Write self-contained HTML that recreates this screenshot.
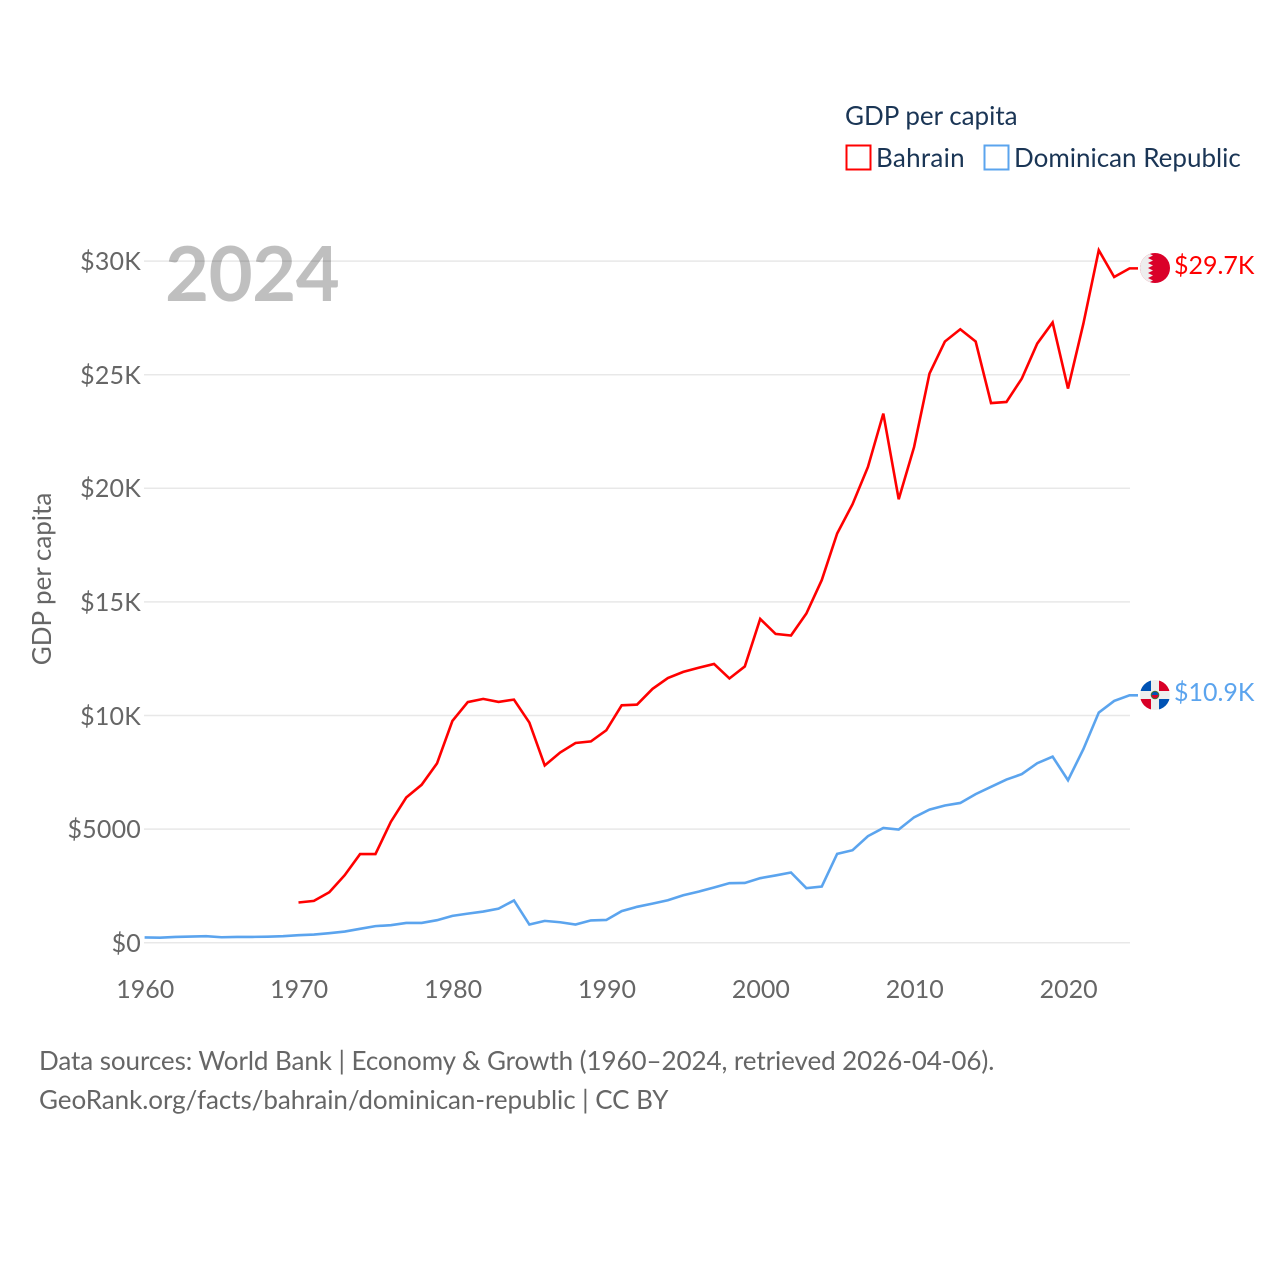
<!DOCTYPE html>
<html lang="en">
<head>
<meta charset="utf-8">
<title>GDP per capita: Bahrain vs Dominican Republic</title>
<style>
html,body{margin:0;padding:0;background:#fff;width:1280px;height:1280px;overflow:hidden}
body{position:relative;font-family:"Lato","Carlito","Liberation Sans",sans-serif}
svg{display:block;position:absolute;left:0;top:0}
.t{position:absolute;line-height:0;white-space:nowrap}
</style>
</head>
<body>
<svg id="chart" xmlns="http://www.w3.org/2000/svg" width="1280" height="1280" viewBox="0 0 1280 1280">
  <defs>
    <clipPath id="clip-bh"><circle cx="1155" cy="268" r="15"/></clipPath>
    <clipPath id="clip-do"><circle cx="1155" cy="695" r="15"/></clipPath>
  </defs>
  <rect x="0" y="0" width="1280" height="1280" fill="#fff"/>
  <g id="grid"></g>
  <g id="series"></g>

  <g>
    <rect x="846.5" y="145.5" width="24" height="24" fill="none" stroke="#ff0000" stroke-width="2"/>
    <rect x="984.5" y="145.5" width="24" height="24" fill="none" stroke="#5ba4ee" stroke-width="2"/>
  </g>

  <g clip-path="url(#clip-bh)">
    <rect x="1140" y="253" width="30" height="30" fill="#da0029"/>
    <path d="M1140 253H1148L1153 255.5L1148 258L1153 260.5L1148 263L1153 265.5L1148 268L1153 270.5L1148 273L1153 275.5L1148 278L1153 280.5L1148 283H1140Z" fill="#eeeeee"/>
  </g>
  <g clip-path="url(#clip-do)">
    <rect x="1140" y="680" width="30" height="30" fill="#eeeeee"/>
    <rect x="1140" y="680" width="11" height="11" fill="#0052b4"/>
    <rect x="1159" y="680" width="11" height="11" fill="#d80027"/>
    <rect x="1140" y="699" width="11" height="11" fill="#d80027"/>
    <rect x="1159" y="699" width="11" height="11" fill="#0052b4"/>
    <circle cx="1155" cy="695" r="4.3" fill="#496e2d"/>
    <circle cx="1155" cy="695" r="3.2" fill="#0052b4"/>
    <path d="M1151.8 695a3.2 3.2 0 0 0 6.4 0z" fill="#d80027"/>
  </g>
</svg>

<div class="t" style="left:165px;top:273px;font-size:76px;font-weight:700;letter-spacing:-0.5px;color:rgba(0,0,0,0.25)">2024</div>
<div class="t" style="left:51px;top:579px;width:0;font-size:26px;color:#666;transform:rotate(-90deg);transform-origin:0 0"><span style="position:absolute;left:-100px;width:200px;text-align:center;top:-10px">GDP per capita</span></div>

<div class="t" style="left:845px;top:115px;font-size:26px;color:#1a3555">GDP per capita</div>
<div class="t" style="left:876px;top:157px;font-size:26px;letter-spacing:0.28px;color:#1a3555">Bahrain</div>
<div class="t" style="left:1014px;top:157px;font-size:26px;color:#1a3555">Dominican Republic</div>

<div class="t" style="left:1174px;top:265px;font-size:25px;color:#ff0000">$29.7K</div>
<div class="t" style="left:1174px;top:692px;font-size:25px;color:#5ba4ee">$10.9K</div>

<div class="t" style="left:39px;top:1060px;font-size:26px;letter-spacing:-0.076px;color:#666">Data sources: World Bank | Economy &amp; Growth (1960–2024, retrieved 2026-04-06).</div>
<div class="t" style="left:39px;top:1099px;font-size:26px;letter-spacing:-0.058px;color:#666">GeoRank.org/facts/bahrain/dominican-republic | CC BY</div>

<script>
const yearStart = 1960;
const bahrainStart = 1970;
const xTickYears = [1960, 1970, 1980, 1990, 2000, 2010, 2020];
const yTickValues = [0, 5, 10, 15, 20, 25, 30];
const yTickLabels = ["$0", "$5000", "$10K", "$15K", "$20K", "$25K", "$30K"];
const bahrain = [1.77, 1.84, 2.22, 2.97, 3.9, 3.9, 5.32, 6.39, 6.95, 7.89, 9.76, 10.59, 10.73, 10.6, 10.7, 9.69, 7.8, 8.37, 8.79, 8.86, 9.35, 10.45, 10.48, 11.17, 11.65, 11.92, 12.1, 12.27, 11.63, 12.16, 14.25, 13.59, 13.52, 14.49, 15.96, 18.01, 19.3, 20.94, 23.29, 19.52, 21.82, 25.05, 26.46, 27.0, 26.46, 23.75, 23.8, 24.83, 26.37, 27.3, 24.39, 27.25, 30.48, 29.3, 29.68];
const dominican = [0.23, 0.22, 0.255, 0.27, 0.285, 0.24, 0.255, 0.255, 0.265, 0.285, 0.33, 0.36, 0.42, 0.49, 0.61, 0.73, 0.77, 0.87, 0.87, 0.99, 1.18, 1.28, 1.37, 1.5, 1.86, 0.8, 0.96, 0.9, 0.8, 0.98, 1.0, 1.39, 1.58, 1.72, 1.87, 2.09, 2.25, 2.43, 2.62, 2.63, 2.84, 2.96, 3.09, 2.4, 2.47, 3.91, 4.07, 4.69, 5.05, 4.98, 5.52, 5.86, 6.04, 6.15, 6.54, 6.86, 7.18, 7.42, 7.9, 8.19, 7.15, 8.52, 10.13, 10.64, 10.89];

const NS = "http://www.w3.org/2000/svg";
const xScale = function (year) { return 144.6 + (year - 1960) * 15.39; };
const yScale = function (k) { return 942.7 - k * 22.72; };

const grid = document.getElementById("grid");
const seriesGroup = document.getElementById("series");

yTickValues.forEach(function (v, i) {
  const line = document.createElementNS(NS, "line");
  line.setAttribute("x1", 144);
  line.setAttribute("x2", 1130);
  line.setAttribute("y1", yScale(v));
  line.setAttribute("y2", yScale(v));
  line.setAttribute("stroke", "#e8e8e8");
  line.setAttribute("stroke-width", "1.5");
  
  
  grid.appendChild(line);

  const label = document.createElement("div");
  label.className = "t";
  label.style.right = (1280 - 141) + "px";
  label.style.top = Math.round(yScale(v)) + "px";
  label.style.fontSize = "25px";
  label.style.letterSpacing = "0.2px";
  label.style.color = "#666";
  label.textContent = yTickLabels[i];
  
  
  document.body.appendChild(label);
});

xTickYears.forEach(function (year) {
  const label = document.createElement("div");
  label.className = "t";
  label.style.left = (xScale(year) + 0.7 - 100) + "px";
  label.style.width = "200px";
  label.style.textAlign = "center";
  label.style.top = "989px";
  label.style.fontSize = "25px";
  label.style.color = "#666";
  label.textContent = String(year);
  
  
  document.body.appendChild(label);
});

function drawSeries(values, firstYear, color) {
  const pts = values.map(function (v, i) {
    return xScale(firstYear + i).toFixed(2) + "," + yScale(v).toFixed(2);
  });
  const lastY = yScale(values[values.length - 1]).toFixed(2);
  pts.push("1138," + lastY);
  const line = document.createElementNS(NS, "polyline");
  line.setAttribute("points", pts.join(" "));
  line.setAttribute("fill", "none");
  line.setAttribute("stroke", color);
  line.setAttribute("stroke-width", "2.6");
  line.setAttribute("stroke-linejoin", "miter");
  return line;
}

const lineDominican = drawSeries(dominican, yearStart, "#5ba4ee");


seriesGroup.appendChild(lineDominican);

const lineBahrain = drawSeries(bahrain, bahrainStart, "#ff0000");


seriesGroup.appendChild(lineBahrain);
</script>
</body>
</html>
